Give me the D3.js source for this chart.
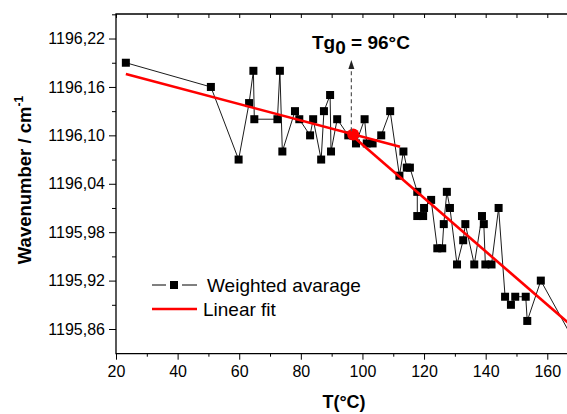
<!DOCTYPE html>
<html lang="en">
<head>
<meta charset="UTF-8">
<title>Wavenumber vs T</title>
<script src="https://d3js.org/d3.v7.min.js"></script>
<style>
body { margin: 0; background: #fff; font-family: Arial, "Liberation Sans", sans-serif; }
.tick text { font-size: 16px; fill: #000; font-family: Arial, "Liberation Sans", sans-serif; }
</style>
</head>
<body>
<svg id="chart" width="567" height="414"></svg>
<script>
// measured points (T in °C, wavenumber in cm-1)
var temps = [23.2, 50.8, 59.8, 63.2, 64.6, 64.9, 72.4, 73.2, 74.0, 78.1, 79.5, 83.0, 84.0,
  86.6, 87.5, 89.5, 89.8, 91.8, 95.4, 97.0, 97.9, 100.7, 101.4, 103.3, 106.1, 109.0,
  112.0, 113.3, 114.4, 115.4, 117.8, 117.8, 119.7, 120.0, 122.3, 124.3, 125.9, 126.4,
  127.4, 128.4, 130.7, 132.7, 133.4, 136.3, 138.8, 139.4, 139.9, 141.9, 144.2, 146.3,
  148.2, 149.6, 153.0, 153.5, 157.9, 168.0];
var wavenumbers = [1196.19, 1196.16, 1196.07, 1196.14, 1196.18, 1196.12, 1196.12, 1196.18, 1196.08,
  1196.13, 1196.12, 1196.10, 1196.12, 1196.07, 1196.13, 1196.15, 1196.08, 1196.12, 1196.10,
  1196.10, 1196.09, 1196.12, 1196.09, 1196.09, 1196.10, 1196.13, 1196.05, 1196.08, 1196.06,
  1196.06, 1196.03, 1196.00, 1196.00, 1196.01, 1196.02, 1195.96, 1195.96, 1195.99, 1196.03,
  1196.01, 1195.94, 1195.97, 1195.99, 1195.94, 1196.00, 1195.99, 1195.94, 1195.94, 1196.01,
  1195.90, 1195.89, 1195.90, 1195.90, 1195.87, 1195.92, 1195.85];

// two linear fits (end points), and the intersection Tg0
var fit1 = [[23.2, 1196.176], [112.2, 1196.086]];
var fit2 = [[96.5, 1196.100], [170, 1195.857]];
var tg = [97.0, 1196.101];

var xTicks = [20, 40, 60, 80, 100, 120, 140, 160];
var yTicks = [1195.86, 1195.92, 1195.98, 1196.04, 1196.10, 1196.16, 1196.22];

var svg = d3.select("#chart");
var pl = 116, pr = 567, pt = 14, pb = 353.7;

var x = d3.scaleLinear().domain([20, 166.4]).range([pl, pr]);
var y = d3.scaleLinear().domain([1195.8294, 1196.2504]).range([pb, pt]);

var fmt = function(d) { return d3.format(".2f")(d).replace(".", ","); };

svg.append("defs").append("clipPath").attr("id", "clip")
  .append("rect").attr("x", pl).attr("y", pt)
  .attr("width", pr - pl).attr("height", pb - pt);

// minor ticks
var xMinor = d3.range(30, 170, 20);
var yMinor = yTicks.map(function(d) { return d + 0.03; });

var gx = svg.append("g").attr("transform", "translate(0," + pb + ")")
  .call(d3.axisBottom(x).tickValues(xTicks).tickSize(6).tickPadding(6).tickFormat(d3.format("d")));
gx.select(".domain").remove();
svg.append("g").attr("transform", "translate(0," + pb + ")")
  .call(d3.axisBottom(x).tickValues(xMinor).tickSize(3).tickFormat(""))
  .select(".domain").remove();

var gy = svg.append("g").attr("transform", "translate(" + pl + ",0)")
  .call(d3.axisLeft(y).tickValues(yTicks).tickSize(7).tickPadding(4).tickFormat(fmt));
gy.select(".domain").remove();
svg.append("g").attr("transform", "translate(" + pl + ",0)")
  .call(d3.axisLeft(y).tickValues(yMinor).tickSize(4).tickFormat(""))
  .select(".domain").remove();

// top axis ticks point inward
svg.append("g").attr("transform", "translate(0," + pt + ")")
  .call(d3.axisBottom(x).tickValues(xTicks.concat(xMinor)).tickSize(4).tickFormat(""))
  .select(".domain").remove();

svg.selectAll(".tick line").attr("stroke", "#000");

// frame
svg.append("path")
  .attr("d", "M" + pl + "," + (pb + 0.5) + "V" + pt + "H" + pr + "M" + pl + "," + pb + "H" + pr)
  .attr("fill", "none").attr("stroke", "#000").attr("stroke-width", 1.3);

var plot = svg.append("g").attr("clip-path", "url(#clip)");

var pts = temps.map(function(t, i) { return [t, wavenumbers[i]]; });
var line = d3.line().x(function(d) { return x(d[0]); }).y(function(d) { return y(d[1]); });

plot.append("path").datum(pts).attr("d", line)
  .attr("fill", "none").attr("stroke", "#000").attr("stroke-width", 0.9);

plot.selectAll("rect.pt").data(pts).enter().append("rect")
  .attr("class", "pt")
  .attr("x", function(d) { return x(d[0]) - 4; })
  .attr("y", function(d) { return y(d[1]) - 4; })
  .attr("width", 8).attr("height", 8).attr("fill", "#000");

[fit1, fit2].forEach(function(f) {
  plot.append("path").datum(f).attr("d", line)
    .attr("fill", "none").attr("stroke", "#f00").attr("stroke-width", 2.6);
});

plot.append("circle").attr("cx", x(tg[0])).attr("cy", y(tg[1])).attr("r", 6).attr("fill", "#f00");

// dashed arrow marking Tg0
var ax = x(96.4);
svg.append("line").attr("x1", ax).attr("x2", ax).attr("y1", y(1196.105)).attr("y2", 68)
  .attr("stroke", "#555").attr("stroke-width", 1.2).attr("stroke-dasharray", "4,3");
svg.append("path").attr("d", "M" + ax + ",60 L" + (ax - 3) + ",69 L" + (ax + 3) + ",69 Z").attr("fill", "#222");

var tgText = svg.append("text").attr("x", 312).attr("y", 49)
  .attr("font-size", 19).attr("font-weight", "bold");
tgText.append("tspan").text("Tg");
tgText.append("tspan").attr("dy", 5).text("0");
tgText.append("tspan").attr("dy", -5).text(" = 96°C");

// legend
var lg = svg.append("g");
lg.append("line").attr("x1", 152).attr("x2", 166).attr("y1", 285).attr("y2", 285).attr("stroke", "#000").attr("stroke-width", 1);
lg.append("line").attr("x1", 182).attr("x2", 197).attr("y1", 285).attr("y2", 285).attr("stroke", "#000").attr("stroke-width", 1);
lg.append("rect").attr("x", 170).attr("y", 281).attr("width", 8).attr("height", 8).attr("fill", "#000");
lg.append("text").attr("x", 207).attr("y", 292).attr("font-size", 19).text("Weighted avarage");
lg.append("line").attr("x1", 152).attr("x2", 197).attr("y1", 309).attr("y2", 309).attr("stroke", "#f00").attr("stroke-width", 2.6);
lg.append("text").attr("x", 203).attr("y", 316).attr("font-size", 19).text("Linear fit");

// axis titles
svg.append("text").attr("x", 344).attr("y", 408).attr("text-anchor", "middle")
  .attr("font-size", 18).attr("font-weight", "bold").text("T(°C)");

var yl = svg.append("text").attr("transform", "translate(31,180) rotate(-90)")
  .attr("text-anchor", "middle").attr("font-size", 18.5).attr("font-weight", "bold");
yl.append("tspan").text("Wavenumber / cm");
yl.append("tspan").attr("dy", -8).attr("font-size", 12).text("-1");
</script>
</body>
</html>
